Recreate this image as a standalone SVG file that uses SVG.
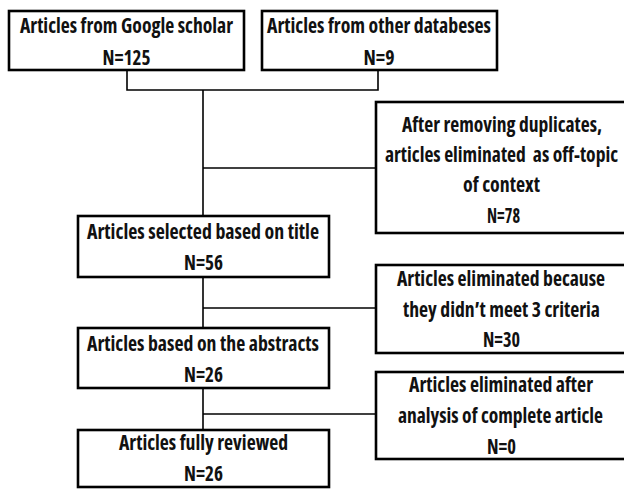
<svg xmlns="http://www.w3.org/2000/svg" width="624" height="489" viewBox="0 0 624 489">
<style>
.box{fill:#fff;stroke:#000;stroke-width:2.6}
.ln{fill:none;stroke:#000;stroke-width:1.6}
text{font-family:"Open Sans","DejaVu Sans Condensed",sans-serif;font-stretch:condensed;font-weight:bold;font-size:20.5px;fill:#111;text-anchor:middle}
</style>
<rect width="624" height="489" fill="#fff"/>
<g id="connectors">
<polyline class="ln" points="127,70 127,90 378,90 378,70"/>
<line class="ln" x1="203" y1="90" x2="203" y2="216"/>
<line class="ln" x1="203" y1="168" x2="376" y2="168"/>
<line class="ln" x1="203" y1="277" x2="203" y2="328"/>
<line class="ln" x1="203" y1="308" x2="376" y2="308"/>
<line class="ln" x1="203" y1="388" x2="203" y2="430"/>
<line class="ln" x1="203" y1="414" x2="376" y2="414"/>
</g>
<g id="google">
<rect class="box" x="9" y="11" width="235" height="59"/>
<text x="126.5" y="33" textLength="213" lengthAdjust="spacingAndGlyphs">Articles from Google scholar</text>
<text x="126.5" y="65" textLength="48" lengthAdjust="spacingAndGlyphs">N=125</text>
</g>
<g id="other">
<rect class="box" x="262" y="11" width="235" height="59"/>
<text x="379" y="33" textLength="224" lengthAdjust="spacingAndGlyphs">Articles from other databeses</text>
<text x="379" y="65" textLength="31" lengthAdjust="spacingAndGlyphs">N=9</text>
</g>
<g id="duplicates">
<rect class="box" x="376" y="102" width="252" height="131"/>
<text x="502" y="132" textLength="200" lengthAdjust="spacingAndGlyphs">After removing duplicates,</text>
<text x="501.5" y="162" textLength="233" lengthAdjust="spacingAndGlyphs" xml:space="preserve">articles eliminated  as off-topic</text>
<text x="501.5" y="192" textLength="77" lengthAdjust="spacingAndGlyphs">of context</text>
<text x="503.5" y="223" textLength="33" lengthAdjust="spacingAndGlyphs">N=78</text>
</g>
<g id="title">
<rect class="box" x="78" y="216" width="251" height="61"/>
<text x="203" y="239" textLength="232" lengthAdjust="spacingAndGlyphs">Articles selected based on title</text>
<text x="203.5" y="270" textLength="39" lengthAdjust="spacingAndGlyphs">N=56</text>
</g>
<g id="criteria">
<rect class="box" x="376" y="265" width="252" height="88"/>
<text x="501" y="286" textLength="208" lengthAdjust="spacingAndGlyphs">Articles eliminated because</text>
<text x="501.5" y="317" textLength="197" lengthAdjust="spacingAndGlyphs">they didn’t meet 3 criteria</text>
<text x="501.5" y="347" textLength="37" lengthAdjust="spacingAndGlyphs">N=30</text>
</g>
<g id="abstracts">
<rect class="box" x="78" y="328" width="251" height="60"/>
<text x="203" y="351" textLength="232" lengthAdjust="spacingAndGlyphs">Articles based on the abstracts</text>
<text x="203.5" y="382" textLength="39" lengthAdjust="spacingAndGlyphs">N=26</text>
</g>
<g id="complete">
<rect class="box" x="376" y="372" width="252" height="87"/>
<text x="501" y="392" textLength="184" lengthAdjust="spacingAndGlyphs">Articles eliminated after</text>
<text x="500.5" y="423" textLength="205" lengthAdjust="spacingAndGlyphs">analysis of complete article</text>
<text x="501.5" y="454" textLength="29" lengthAdjust="spacingAndGlyphs">N=0</text>
</g>
<g id="reviewed">
<rect class="box" x="78" y="430" width="251" height="57"/>
<text x="203.5" y="450" textLength="169" lengthAdjust="spacingAndGlyphs">Articles fully reviewed</text>
<text x="203.5" y="481" textLength="39" lengthAdjust="spacingAndGlyphs">N=26</text>
</g>
</svg>
